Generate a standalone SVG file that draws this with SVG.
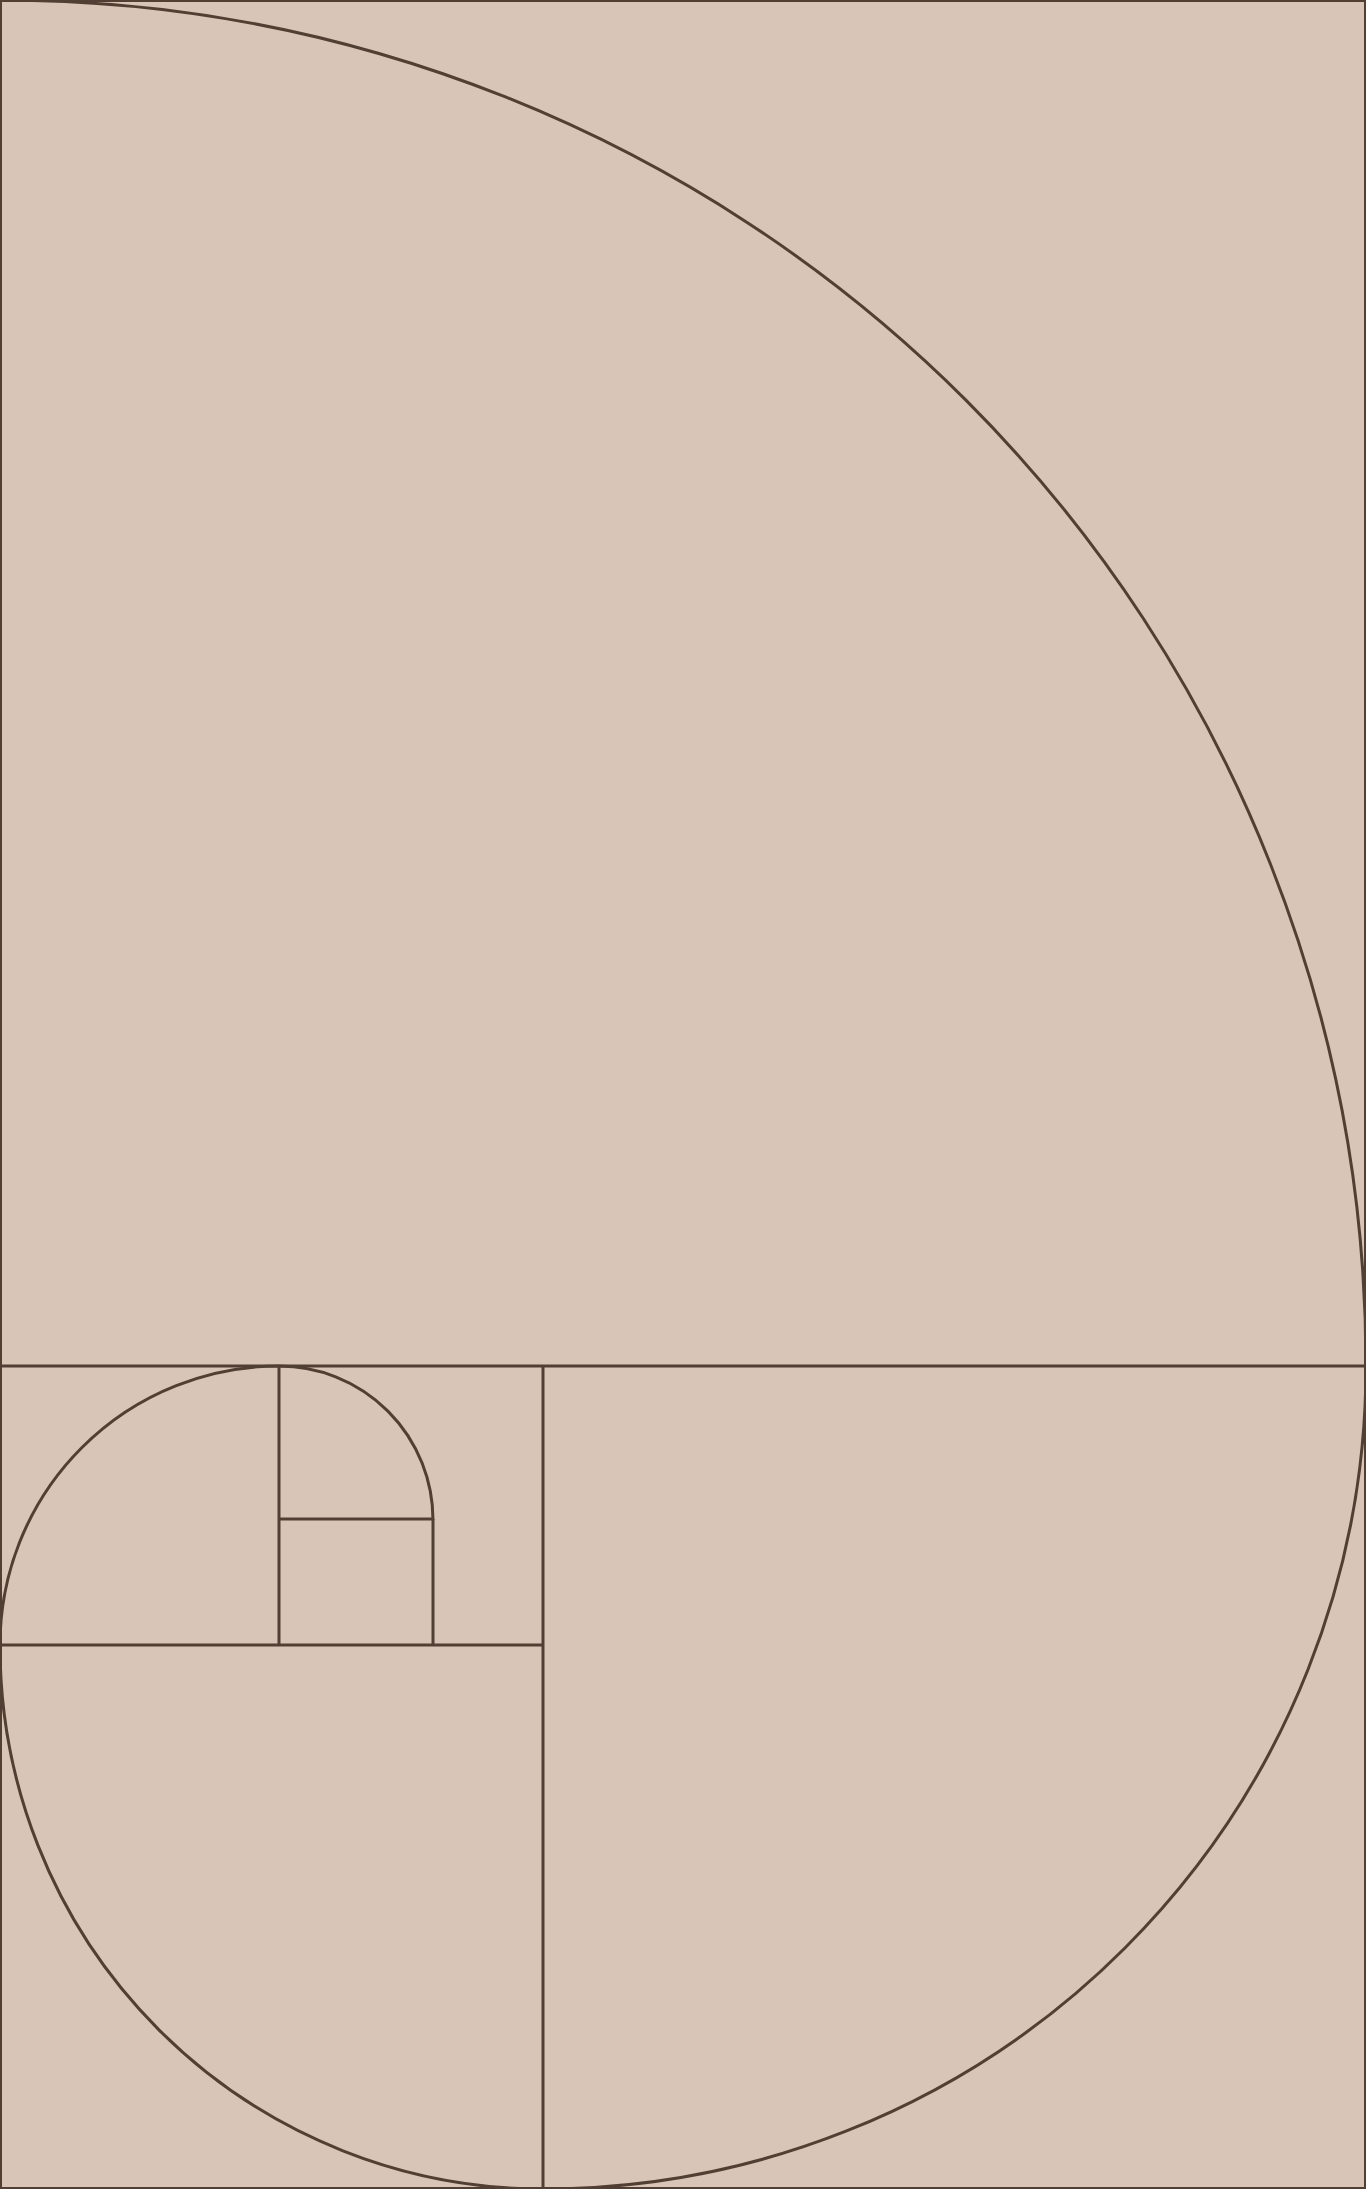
<svg xmlns="http://www.w3.org/2000/svg" width="1366" height="2189" viewBox="0 0 1366 2189">
<style>
.ln{fill:none;stroke:#523f34;stroke-width:3}
.bd{fill:#d8c5b7;stroke:#523f34;stroke-width:2}
</style>
<rect id="frame" class="bd" x="1" y="1" width="1364" height="2187"/>
<g id="grid">
<line class="ln" x1="0" y1="1366" x2="1366" y2="1366"/>
<line class="ln" x1="543" y1="1366" x2="543" y2="2189"/>
<line class="ln" x1="0" y1="1645" x2="543" y2="1645"/>
<line class="ln" x1="279" y1="1366" x2="279" y2="1645"/>
<line class="ln" x1="433" y1="1519" x2="433" y2="1645"/>
<line class="ln" x1="279" y1="1519" x2="433" y2="1519"/>
</g>
<g id="spiral">
<path class="ln" d="M0,0 A1366,1366 0 0 1 1366,1366 A823,823 0 0 1 543,2189 A543,543 0 0 1 0,1645 A279,279 0 0 1 279,1366 A154,154 0 0 1 433,1520"/>
</g>
</svg>
